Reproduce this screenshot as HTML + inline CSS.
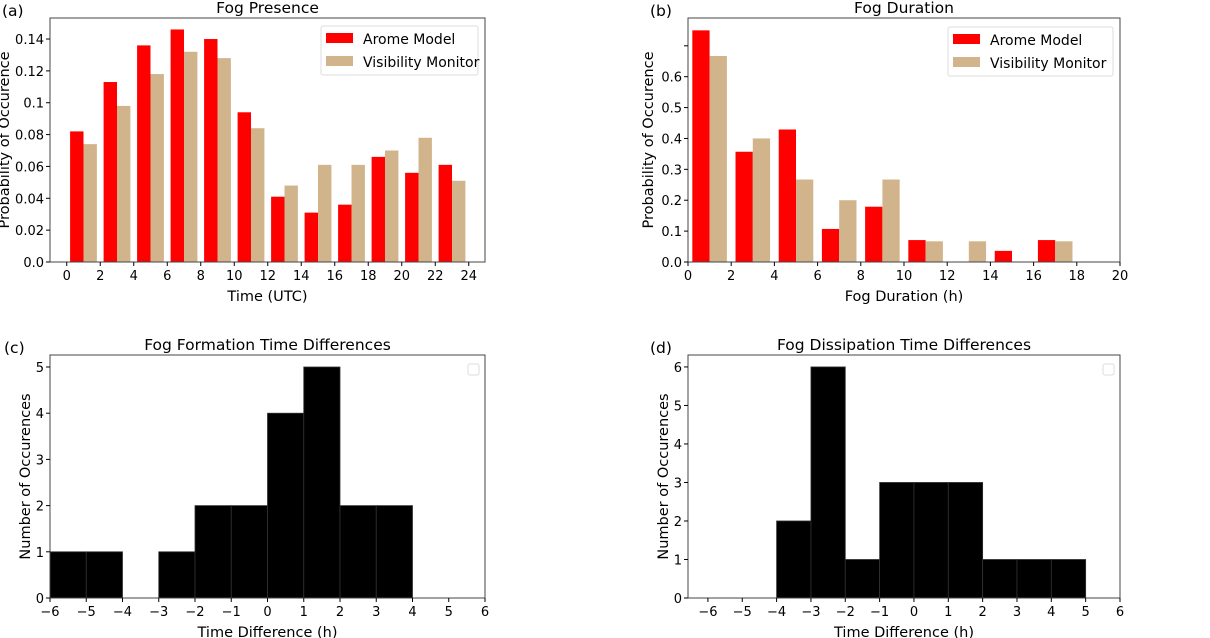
<!DOCTYPE html>
<html><head><meta charset="utf-8"><style>
body{margin:0;background:#fff}
svg{display:block;font-family:"DejaVu Sans","Liberation Sans",sans-serif}
</style></head><body>
<svg id="fig" width="1210" height="638" viewBox="0 0 1210 638" xmlns="http://www.w3.org/2000/svg"></svg>
<script>
// Panel (a) Fog Presence
const presenceBins = [0,2,4,6,8,10,12,14,16,18,20,22];
const presenceArome = [0.082,0.113,0.136,0.146,0.140,0.094,0.041,0.031,0.036,0.066,0.056,0.061];
const presenceVis = [0.074,0.098,0.118,0.132,0.128,0.084,0.048,0.061,0.061,0.070,0.078,0.051];
const presenceXTicks = [0,2,4,6,8,10,12,14,16,18,20,22,24];
const presenceYTicks = [0,0.02,0.04,0.06,0.08,0.1,0.12,0.14];
const presenceYLabels = ["0.0","0.02","0.04","0.06","0.08","0.1","0.12","0.14"];
// Panel (b) Fog Duration
const durationBins = [0,2,4,6,8,10,12,14,16,18];
const durationArome = [0.75,0.357,0.429,0.107,0.179,0.071,0,0.036,0.071,0];
const durationVis = [0.667,0.4,0.267,0.2,0.267,0.067,0.067,0,0.067,0];
const durationXTicks = [0,2,4,6,8,10,12,14,16,18,20];
const durationYTicks = [0,0.1,0.2,0.3,0.4,0.5,0.6,0.7];
const durationYLabels = ["0.0","0.1","0.2","0.3","0.4","0.5","0.6",""];
// Panel (c) Formation differences
const formationBins = [-6,-5,-4,-3,-2,-1,0,1,2,3];
const formationCounts = [1,1,0,1,2,2,4,5,2,2];
const formationXTicks = [-6,-5,-4,-3,-2,-1,0,1,2,3,4,5,6];
const formationYTicks = [0,1,2,3,4,5];
// Panel (d) Dissipation differences
const dissipationBins = [-4,-3,-2,-1,0,1,2,3,4];
const dissipationCounts = [2,6,1,3,3,3,1,1,1];
const dissipationXTicks = [-6,-5,-4,-3,-2,-1,0,1,2,3,4,5,6];
const dissipationYTicks = [0,1,2,3,4,5,6];

const NS="http://www.w3.org/2000/svg";
const svg=document.getElementById('fig');
function el(tag,attrs,parent,text){const e=document.createElementNS(NS,tag);for(const k in attrs)e.setAttribute(k,attrs[k]);if(text!==undefined)e.textContent=text;(parent||svg).appendChild(e);return e;}
function fmtNeg(v){return v<0?'\u2212'+Math.abs(v):String(v);}

function panel(o){
  const g=el('g',{});
  
  
  const sx=v=>o.L+(v-o.x0)/(o.x1-o.x0)*(o.R-o.L);
  const sy=v=>o.B-(v-o.y0)/(o.y1-o.y0)*(o.B-o.T);
  o.draw(g,sx,sy);
  const frame=el('rect',{x:o.L,y:o.T,width:o.R-o.L,height:o.B-o.T,fill:'none',stroke:'#444','stroke-width':1},g);
  
  
  o.xticks.forEach((t,i)=>{const x=sx(t);
    el('line',{x1:x,x2:x,y1:o.B,y2:o.B+4,stroke:'#000'},g);
    const tx=el('text',{x:x,y:o.B+18,'font-size':13,'text-anchor':'middle'},g,o.xlabels?o.xlabels[i]:fmtNeg(t));
    
    });
  o.yticks.forEach((t,i)=>{const y=sy(t);
    el('line',{x1:o.L-4,x2:o.L,y1:y,y2:y,stroke:'#000'},g);
    const ty=el('text',{x:o.L-6,y:y+5,'font-size':13,'text-anchor':'end'},g,o.ylabels?o.ylabels[i]:String(t));
    
    });
  const xt=el('text',{x:(o.L+o.R)/2,y:o.B+39,'font-size':14.5,'text-anchor':'middle'},g,o.xlabel);
  
  
  const yx=o.L-o.ylabOff;
  const yt=el('text',{x:yx,y:(o.T+o.B)/2,'font-size':14.5,'text-anchor':'middle',transform:`rotate(-90 ${yx} ${(o.T+o.B)/2})`},g,o.ylabel);
  
  
  const ti=el('text',{x:(o.L+o.R)/2,y:o.T-5,'font-size':15.5,'text-anchor':'middle'},g,o.title);
  
  
  const pl=el('text',{x:o.plx,y:o.T-2,'font-size':15.5},g,o.plabel);
  
  
}

function pairedBars(g,sx,sy,bins,a,v){
  bins.forEach((b,i)=>{
    if(a[i]>0){const r=el('rect',{x:sx(b+0.2),y:sy(a[i]),width:sx(b+1.0)-sx(b+0.2),height:sy(0)-sy(a[i]),fill:'#ff0000'},g);
      
      }
    if(v[i]>0){const r=el('rect',{x:sx(b+1.0),y:sy(v[i]),width:sx(b+1.8)-sx(b+1.0),height:sy(0)-sy(v[i]),fill:'#d2b48c'},g);
      
      }
  });
}
function legend(g,x,y,w){
  const lg=el('g',{},g);
  
  
  el('rect',{x:x,y:y,width:w,height:49,fill:'#fff',stroke:'#ddd',rx:2},lg);
  el('rect',{x:x+5,y:y+7,width:27,height:10,fill:'#ff0000'},lg);
  el('rect',{x:x+5,y:y+30,width:27,height:10,fill:'#d2b48c'},lg);
  const t1=el('text',{x:x+42,y:y+18,'font-size':14},lg,'Arome Model');
  
  
  const t2=el('text',{x:x+42,y:y+41,'font-size':14},lg,'Visibility Monitor');
  
  
}
function hist(g,sx,sy,bins,c){
  bins.forEach((b,i)=>{if(c[i]>0){const r=el('rect',{x:sx(b),y:sy(c[i]),width:sx(b+1)-sx(b),height:sy(0)-sy(c[i]),fill:'#000',stroke:'#333','stroke-width':0.8},g);
    
    }});
}
function emptyLegend(g,x,y){
  const r=el('rect',{x:x,y:y,width:11,height:11,fill:'#fff',stroke:'#ddd',rx:2},g);
  
  
}

panel({name:'fog-presence-chart',L:50,R:485,T:18,B:262,x0:-1.0,x1:24.97,y0:0,y1:0.1532,
  xticks:presenceXTicks,yticks:presenceYTicks,ylabels:presenceYLabels,xlabel:'Time (UTC)',ylabel:'Probability of Occurence',
  ylabOff:41,title:'Fog Presence',plabel:'(a)',plx:2,
  draw:(g,sx,sy)=>{pairedBars(g,sx,sy,presenceBins,presenceArome,presenceVis);}});
legend(svg,321,26,157);

panel({name:'fog-duration-chart',L:688,R:1120,T:18,B:262,x0:0,x1:20,y0:0,y1:0.79,
  xticks:durationXTicks,yticks:durationYTicks,ylabels:durationYLabels,xlabel:'Fog Duration (h)',ylabel:'Probability of Occurence',
  ylabOff:35,title:'Fog Duration',plabel:'(b)',plx:650,
  draw:(g,sx,sy)=>{pairedBars(g,sx,sy,durationBins,durationArome,durationVis);}});
legend(svg,948,27,165);

panel({name:'fog-formation-chart',L:50,R:485,T:355,B:598,x0:-6,x1:6,y0:0,y1:5.26,
  xticks:formationXTicks,yticks:formationYTicks,xlabel:'Time Difference (h)',ylabel:'Number of Occurences',
  ylabOff:20,title:'Fog Formation Time Differences',plabel:'(c)',plx:4,
  draw:(g,sx,sy)=>{hist(g,sx,sy,formationBins,formationCounts);emptyLegend(g,468,364);}});

panel({name:'fog-dissipation-chart',L:688,R:1120,T:355,B:598,x0:-6.58,x1:6,y0:0,y1:6.31,
  xticks:dissipationXTicks,yticks:dissipationYTicks,xlabel:'Time Difference (h)',ylabel:'Number of Occurences',
  ylabOff:20,title:'Fog Dissipation Time Differences',plabel:'(d)',plx:650,
  draw:(g,sx,sy)=>{hist(g,sx,sy,dissipationBins,dissipationCounts);emptyLegend(g,1103,364);}});
</script>
</body></html>
